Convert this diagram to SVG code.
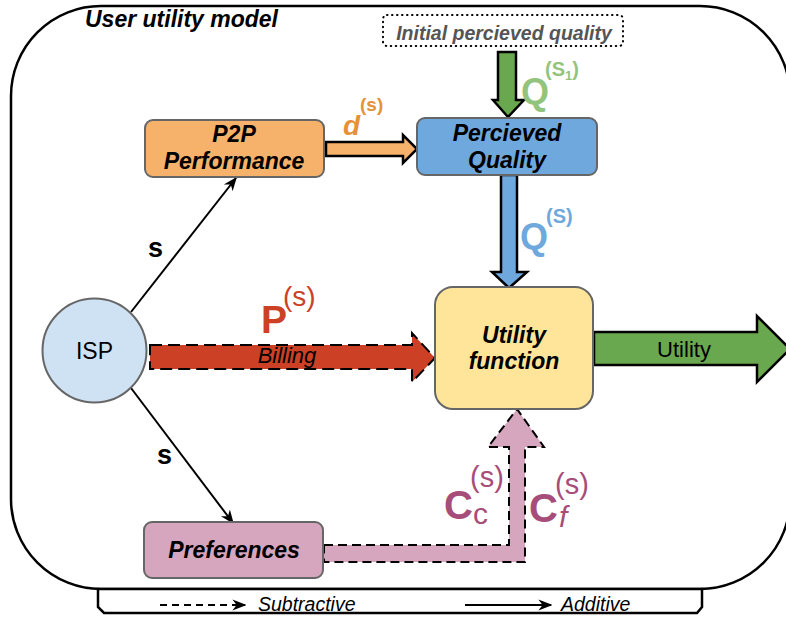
<svg xmlns="http://www.w3.org/2000/svg" width="786" height="617" viewBox="0 0 786 617">
<style>
text{font-family:"Liberation Sans",Arial,sans-serif}
.bi{font-weight:bold;font-style:italic;fill:#000}
.node{stroke:#666;stroke-width:2}
.dash{stroke:#000;stroke-width:2;stroke-dasharray:9 5}
</style>
<defs>
<marker id="ahL" viewBox="0 0 10 10" refX="9" refY="5" markerWidth="14" markerHeight="14" orient="auto" markerUnits="userSpaceOnUse">
<path d="M0,1 L10,5 L0,9 L3,5 Z" fill="#000"/>
</marker>
</defs>
<rect width="786" height="617" fill="#fff"/>
<g id="frame">
<rect x="11" y="6" width="779" height="583" rx="90" ry="90" fill="#fff" stroke="#000" stroke-width="2.5"/>
<text x="85" y="27" class="bi" font-size="23">User utility model</text>
</g>
<g id="legend">
<path d="M98,589 L702,589 L702,607 L697,613 L104,613 L98,607 Z" fill="#fff" stroke="#000" stroke-width="2.5"/>
<line x1="160" y1="605" x2="245" y2="605" stroke="#000" stroke-width="2" stroke-dasharray="7 5" marker-end="url(#ahL)"/>
<text x="258" y="611" font-size="19.5" font-style="italic">Subtractive</text>
<line x1="465" y1="605" x2="551" y2="605" stroke="#000" stroke-width="2" marker-end="url(#ahL)"/>
<text x="561" y="611" font-size="19.5" font-style="italic">Additive</text>
</g>
<g id="connectors">
<line x1="131" y1="312" x2="236" y2="178" stroke="#000" stroke-width="2" marker-end="url(#ahL)"/>
<line x1="131" y1="388" x2="233" y2="523" stroke="#000" stroke-width="2" marker-end="url(#ahL)"/>
<text x="148" y="257" font-size="27" font-weight="bold">s</text>
<text x="157" y="464" font-size="27" font-weight="bold">s</text>
<path d="M498,52 L516,52 L516,100 L524,100 L508,117 L493,100 L498,100 Z" fill="#6aa84f" stroke="#000" stroke-width="2.5"/>
<text x="521" y="104" font-size="36" font-weight="bold" fill="#93c47d">Q</text>
<text x="545" y="76" font-size="20" font-weight="bold" fill="#93c47d">(S<tspan font-size="13" dy="4">1</tspan><tspan dy="-4">)</tspan></text>
<path d="M326,142 L403,142 L403,135 L417,149 L403,163 L403,156 L326,156 Z" fill="#f6b26b" stroke="#000" stroke-width="2.5"/>
<text x="343" y="135" font-size="28" font-weight="bold" font-style="italic" fill="#e69138">d</text>
<text x="360" y="111" font-size="19" font-weight="bold" fill="#e69138">(s)</text>
<path d="M501,175 L517,175 L517,272 L527,272 L509,288 L492,272 L501,272 Z" fill="#6fa8dc" stroke="#000" stroke-width="2.5"/>
<text x="520" y="249" font-size="36" font-weight="bold" fill="#6fa8dc">Q</text>
<text x="546" y="223" font-size="20" font-weight="bold" fill="#6fa8dc">(S)</text>
<path d="M150,345 L412,345 L412,333 L435,358 L412,382 L412,369 L150,369 Z" fill="#cc4125" stroke="#000" stroke-width="2" stroke-dasharray="12 6"/>
<text x="261" y="333" font-size="39" font-weight="bold" fill="#cc4125">P</text>
<text x="283" y="306" font-size="28" fill="#cc4125">(s)</text>
<text x="287" y="363" font-size="22" font-style="italic" text-anchor="middle">Billing</text>
<path d="M594,332 L757,332 L757,316 L790,349 L757,382 L757,365 L594,365 Z" fill="#6aa84f" stroke="#000" stroke-width="2.5"/>
<text x="684" y="357" font-size="22" text-anchor="middle">Utility</text>
<path d="M324,545 L509,545 L509,447 L488,447 L517,409 L544,447 L525,447 L525,562 L324,562 Z" fill="#d5a6bd" class="dash"/>
<text x="444" y="519" font-size="40" font-weight="bold" fill="#a64d79">C</text>
<text x="473" y="524" font-size="30" fill="#a64d79">c</text>
<text x="470" y="487" font-size="29" fill="#a64d79">(s)</text>
<text x="529" y="522" font-size="40" font-weight="bold" fill="#a64d79">C</text>
<text x="559" y="527" font-size="30" font-style="italic" fill="#a64d79">f</text>
<text x="555" y="494" font-size="29" fill="#a64d79">(s)</text>
</g>
<g id="initial">
<rect x="383" y="15" width="240" height="31" rx="4" fill="none" stroke="#000" stroke-width="2" stroke-dasharray="0.5 4.5" stroke-linecap="round"/>
<text x="504" y="40" font-size="19.5" font-weight="bold" font-style="italic" fill="#555" text-anchor="middle">Initial percieved quality</text>
</g>
<g id="p2p">
<rect x="145" y="120" width="179" height="57" rx="8" fill="#f6b26b" class="node"/>
<text x="234" y="142" class="bi" font-size="23" text-anchor="middle">P2P</text>
<text x="234" y="169" class="bi" font-size="23" text-anchor="middle">Performance</text>
</g>
<g id="quality">
<rect x="417" y="118" width="180" height="57" rx="8" fill="#6fa8dc" class="node"/>
<text x="507" y="141" class="bi" font-size="23" text-anchor="middle">Percieved</text>
<text x="507" y="168" class="bi" font-size="23" text-anchor="middle">Quality</text>
</g>
<g id="isp">
<circle cx="94.5" cy="350.5" r="52" fill="#cfe2f3" class="node"/>
<text x="94.5" y="359" font-size="23" text-anchor="middle">ISP</text>
</g>
<g id="utility">
<rect x="435" y="287" width="158" height="122" rx="18" fill="#ffe599" class="node"/>
<text x="514" y="343" class="bi" font-size="23" text-anchor="middle">Utility</text>
<text x="514" y="369" class="bi" font-size="23" text-anchor="middle">function</text>
</g>
<g id="preferences">
<rect x="144" y="522" width="179" height="56" rx="8" fill="#d5a6bd" class="node"/>
<text x="234" y="558" class="bi" font-size="23" text-anchor="middle">Preferences</text>
</g>
</svg>
